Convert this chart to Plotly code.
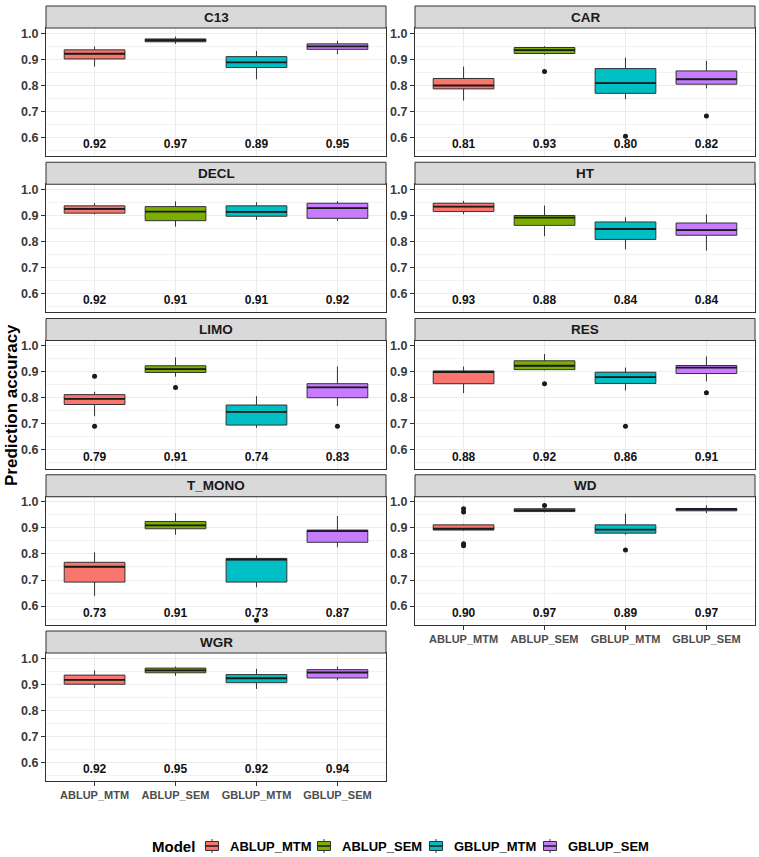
import plotly.graph_objects as go

# ---------------- data ----------------
traits = ["C13", "CAR", "DECL", "HT", "LIMO", "RES", "T_MONO", "WD", "WGR"]
models = ["ABLUP_MTM", "ABLUP_SEM", "GBLUP_MTM", "GBLUP_SEM"]
colors = ["#F8766D", "#7CAE00", "#00BFC4", "#C77CFF"]

# box statistics per trait, in model order
lower_whisker = {
    "C13": [0.872, 0.959, 0.823, 0.919],
    "CAR": [0.741, 0.917, 0.746, 0.788],
    "DECL": [0.904, 0.857, 0.883, 0.879],
    "HT": [0.905, 0.820, 0.770, 0.765],
    "LIMO": [0.729, 0.881, 0.684, 0.768],
    "RES": [0.818, 0.905, 0.828, 0.863],
    "T_MONO": [0.639, 0.874, 0.672, 0.826],
    "WD": [0.890, 0.960, 0.874, 0.957],
    "WGR": [0.886, 0.932, 0.882, 0.915],
}
q1 = {
    "C13": [0.901, 0.967, 0.868, 0.938],
    "CAR": [0.786, 0.922, 0.769, 0.804],
    "DECL": [0.909, 0.880, 0.897, 0.889],
    "HT": [0.915, 0.862, 0.808, 0.824],
    "LIMO": [0.774, 0.897, 0.695, 0.800],
    "RES": [0.854, 0.908, 0.855, 0.893],
    "T_MONO": [0.692, 0.897, 0.692, 0.845],
    "WD": [0.892, 0.963, 0.880, 0.966],
    "WGR": [0.900, 0.944, 0.906, 0.924],
}
median = {
    "C13": [0.921, 0.973, 0.888, 0.949],
    "CAR": [0.799, 0.935, 0.808, 0.823],
    "DECL": [0.925, 0.915, 0.914, 0.928],
    "HT": [0.934, 0.892, 0.848, 0.844],
    "LIMO": [0.796, 0.910, 0.746, 0.840],
    "RES": [0.899, 0.923, 0.879, 0.916],
    "T_MONO": [0.751, 0.910, 0.778, 0.888],
    "WD": [0.897, 0.968, 0.894, 0.972],
    "WGR": [0.917, 0.953, 0.923, 0.945],
}
q3 = {
    "C13": [0.936, 0.978, 0.910, 0.959],
    "CAR": [0.826, 0.945, 0.864, 0.855],
    "DECL": [0.937, 0.934, 0.937, 0.947],
    "HT": [0.947, 0.900, 0.875, 0.871],
    "LIMO": [0.812, 0.923, 0.772, 0.854],
    "RES": [0.903, 0.942, 0.898, 0.924],
    "T_MONO": [0.768, 0.925, 0.783, 0.892],
    "WD": [0.912, 0.974, 0.912, 0.975],
    "WGR": [0.935, 0.962, 0.937, 0.956],
}
upper_whisker = {
    "C13": [0.949, 0.987, 0.932, 0.971],
    "CAR": [0.872, 0.950, 0.906, 0.894],
    "DECL": [0.947, 0.954, 0.951, 0.955],
    "HT": [0.956, 0.938, 0.893, 0.904],
    "LIMO": [0.823, 0.955, 0.806, 0.920],
    "RES": [0.920, 0.968, 0.916, 0.959],
    "T_MONO": [0.806, 0.957, 0.794, 0.946],
    "WD": [0.915, 0.976, 0.955, 0.987],
    "WGR": [0.953, 0.968, 0.959, 0.968],
}
# mean accuracy labels
mean_label = {
    "C13": [0.92, 0.97, 0.89, 0.95],
    "CAR": [0.81, 0.93, 0.80, 0.82],
    "DECL": [0.92, 0.91, 0.91, 0.92],
    "HT": [0.93, 0.88, 0.84, 0.84],
    "LIMO": [0.79, 0.91, 0.74, 0.83],
    "RES": [0.88, 0.92, 0.86, 0.91],
    "T_MONO": [0.73, 0.91, 0.73, 0.87],
    "WD": [0.90, 0.97, 0.89, 0.97],
    "WGR": [0.92, 0.95, 0.92, 0.94],
}
# outliers: trait -> list of (model index, value)
outliers = {
    "CAR": [(1, 0.853), (2, 0.604), (3, 0.682)],
    "LIMO": [(0, 0.883), (0, 0.690), (1, 0.839), (3, 0.690)],
    "RES": [(1, 0.854), (2, 0.690), (3, 0.819)],
    "T_MONO": [(2, 0.545)],
    "WD": [(0, 0.974), (0, 0.961), (0, 0.839), (0, 0.832), (1, 0.986), (2, 0.815)],
}
y_ticks = [0.6, 0.7, 0.8, 0.9, 1.0]
label_y = 0.57

# ---------------- layout geometry (pixels) ----------------
W, H = 759, 857
col_x = [(46, 386), (415, 755)]
row_top0, row_pitch, strip_h, panel_h = 6, 156.25, 22, 128
y_range = [0.528, 1.02]
FONT = "Liberation Sans, Arial, sans-serif"
legend_y = 846
legend_text_x = [228, 340, 452, 566]
legend_title_right = 197


def px_x(v):
    return v / W


def px_y(v):
    return 1 - v / H


fig = go.Figure()
layout_axes = {}
shapes = []
annotations = []

for k, trait in enumerate(traits):
    r, c = divmod(k, 2)
    suffix = "" if k == 0 else str(k + 1)
    xa, ya = "x" + suffix, "y" + suffix
    x0, x1 = col_x[c]
    top = row_top0 + r * row_pitch
    p_top = top + strip_h
    p_bot = p_top + panel_h
    show_x = trait in ("WD", "WGR")

    layout_axes["xaxis" + suffix] = dict(
        domain=[px_x(x0), px_x(x1)], anchor=ya, range=[0.4, 4.6],
        tickvals=[1, 2, 3, 4], ticktext=models, showticklabels=show_x,
        ticks="outside" if show_x else "", ticklen=4, tickcolor="#333333",
        tickfont=dict(family=FONT, size=11, color="#4D4D4D", weight="bold"),
        showgrid=True, gridcolor="#EBEBEB", gridwidth=1,
        showline=True, mirror=True, linecolor="#333333", linewidth=1,
        zeroline=False, fixedrange=True,
    )
    layout_axes["yaxis" + suffix] = dict(
        domain=[px_y(p_bot), px_y(p_top)], anchor=xa, range=y_range,
        tickvals=y_ticks, ticktext=[f"{v:.1f}" for v in y_ticks],
        ticks="outside", ticklen=4, tickcolor="#333333",
        tickfont=dict(family=FONT, size=12.5, color="#3A3A3A", weight="bold"),
        showgrid=True, gridcolor="#EBEBEB", gridwidth=1.1,
        minor=dict(tickvals=[v + 0.05 for v in [0.5] + y_ticks], showgrid=True,
                   gridcolor="#F2F2F2", gridwidth=0.6, ticks=""),
        showline=True, mirror=True, linecolor="#333333", linewidth=1,
        zeroline=False, fixedrange=True,
    )

    # strip
    shapes.append(dict(type="rect", xref="paper", yref="paper",
                       x0=px_x(x0), x1=px_x(x1), y0=px_y(p_top), y1=px_y(top),
                       fillcolor="#D9D9D9", line=dict(color="#333333", width=1),
                       layer="above"))
    annotations.append(dict(text=f"<b>{trait}</b>", xref="paper", yref="paper",
                            x=px_x((x0 + x1) / 2), y=px_y((top + p_top) / 2),
                            xanchor="center", yanchor="middle", showarrow=False,
                            font=dict(family=FONT, size=13.5, color="#1A1A1A")))

    for i, m in enumerate(models):
        pos = i + 1
        fig.add_trace(go.Box(
            x=[pos], q1=[q1[trait][i]], median=[median[trait][i]], q3=[q3[trait][i]],
            lowerfence=[lower_whisker[trait][i]], upperfence=[upper_whisker[trait][i]],
            name=m, showlegend=False, width=0.75,
            fillcolor=colors[i], line=dict(color="#333333", width=1),
            whiskerwidth=0, boxpoints=False, xaxis=xa, yaxis=ya, hoverinfo="skip",
        ))
        # thicker median line, as in ggplot
        fig.add_trace(go.Scatter(
            x=[pos - 0.375, pos + 0.375], y=[median[trait][i]] * 2, mode="lines",
            line=dict(color="#1A1A1A", width=1.8), showlegend=False,
            xaxis=xa, yaxis=ya, hoverinfo="skip",
        ))

    if trait in outliers:
        fig.add_trace(go.Scatter(
            x=[mi + 1 for mi, _ in outliers[trait]], y=[v for _, v in outliers[trait]],
            mode="markers", marker=dict(color="#1A1A1A", size=5),
            showlegend=False, xaxis=xa, yaxis=ya, hoverinfo="skip",
        ))

    fig.add_trace(go.Scatter(
        x=[1, 2, 3, 4], y=[label_y] * 4, mode="text",
        text=[f"{v:.2f}" for v in mean_label[trait]],
        textfont=dict(family=FONT, size=12, color="#111111", weight="bold"),
        showlegend=False, xaxis=xa, yaxis=ya, hoverinfo="skip",
    ))

annotations.append(dict(text="<b>Prediction accuracy</b>", xref="paper", yref="paper",
                        x=px_x(12), y=px_y(405), textangle=-90, showarrow=False,
                        xanchor="center", yanchor="middle",
                        font=dict(family=FONT, size=17, color="#000000")))

# ---------------- legend (ggplot-style, at the bottom) ----------------
annotations.append(dict(text="<b>Model</b>", xref="paper", yref="paper",
                        x=px_x(legend_title_right), y=px_y(legend_y),
                        xanchor="right", yanchor="middle", showarrow=False,
                        font=dict(family=FONT, size=15, color="#000000")))
for i, m in enumerate(models):
    cx = legend_text_x[i] - 16
    shapes.append(dict(type="line", xref="paper", yref="paper",
                       x0=px_x(cx), x1=px_x(cx), y0=px_y(legend_y - 7), y1=px_y(legend_y + 7),
                       line=dict(color="#333333", width=1)))
    shapes.append(dict(type="rect", xref="paper", yref="paper",
                       x0=px_x(cx - 6.5), x1=px_x(cx + 6.5),
                       y0=px_y(legend_y + 4.5), y1=px_y(legend_y - 4.5),
                       fillcolor=colors[i], line=dict(color="#333333", width=1)))
    shapes.append(dict(type="line", xref="paper", yref="paper",
                       x0=px_x(cx - 6.5), x1=px_x(cx + 6.5), y0=px_y(legend_y), y1=px_y(legend_y),
                       line=dict(color="#1A1A1A", width=1.5)))
    annotations.append(dict(text=f"<b>{m}</b>", xref="paper", yref="paper",
                            x=px_x(legend_text_x[i]), y=px_y(legend_y),
                            xanchor="left", yanchor="middle", showarrow=False,
                            font=dict(family=FONT, size=13, color="#000000")))

fig.update_layout(
    width=W, height=H, autosize=False,
    margin=dict(l=0, r=0, t=0, b=0),
    paper_bgcolor="white", plot_bgcolor="white",
    boxmode="overlay", showlegend=False,
    shapes=shapes, annotations=annotations,
    **layout_axes,
)

fig.write_html("out.html")
